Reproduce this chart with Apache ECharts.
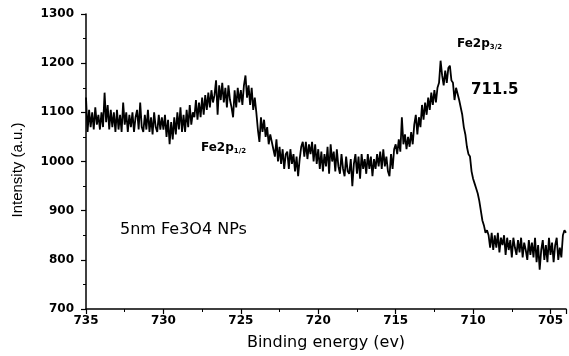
<!DOCTYPE html>
<html>
<head>
<meta charset="utf-8">
<script src="https://cdn.jsdelivr.net/npm/echarts@6/dist/echarts.min.js"></script>
<style>
  html, body { margin: 0; padding: 0; background: #fff; }
  #chart { width: 569px; height: 356px; }
</style>
</head>
<body>
<div id="chart"></div>
<script>
// binding energy grid (eV), read from 735 down to 704 in 0.1 eV steps
const energyStart = 735
const energyStep = 0.1

// intensity, one row per eV
const intensity = [
  1130, 1060, 1105, 1070, 1100, 1065, 1110, 1075, 1095, 1065, // 735.0
  1100, 1070, 1140, 1080, 1115, 1065, 1105, 1070, 1100, 1060, // 734.0
  1105, 1065, 1095, 1060, 1120, 1075, 1100, 1060, 1095, 1070, // 733.0
  1100, 1060, 1090, 1105, 1065, 1120, 1070, 1060, 1095, 1065, // 732.0
  1105, 1060, 1090, 1055, 1100, 1070, 1060, 1095, 1065, 1090, // 731.0
  1065, 1095, 1050, 1085, 1035, 1080, 1045, 1090, 1055, 1100, // 730.0
  1065, 1110, 1060, 1095, 1060, 1105, 1070, 1115, 1075, 1100, // 729.0
  1090, 1125, 1085, 1120, 1090, 1130, 1095, 1135, 1105, 1140, // 728.0
  1110, 1145, 1120, 1135, 1165, 1095, 1155, 1125, 1160, 1120, // 727.0
  1150, 1110, 1155, 1125, 1110, 1090, 1145, 1110, 1150, 1120, // 726.0
  1145, 1115, 1155, 1175, 1130, 1155, 1115, 1150, 1105, 1130, // 725.0
  1100, 1065, 1040, 1090, 1060, 1085, 1050, 1070, 1035, 1055, // 724.0
  1040, 1025, 1010, 1045, 1000, 1030, 995, 1025, 985, 1015,   // 723.0
  1020, 985, 1025, 995, 1015, 980, 1010, 970, 1005, 1030,     // 722.0
  1040, 1010, 1040, 1005, 1035, 1015, 1040, 1000, 1035, 995,  // 721.0
  1025, 985, 1020, 980, 1015, 990, 1030, 975, 1035, 1000,     // 720.0
  1020, 980, 1025, 990, 975, 1015, 985, 970, 1010, 980,       // 719.0
  975, 1005, 950, 995, 1015, 975, 1010, 965, 1015, 985,       // 718.0
  1005, 975, 1015, 985, 1010, 970, 1005, 985, 1015, 990,      // 717.0
  1020, 985, 1025, 990, 1010, 980, 970, 1015, 985, 1025,      // 716.0
  1035, 1015, 1045, 1020, 1090, 1035, 1055, 1025, 1050, 1030, // 715.0
  1060, 1035, 1075, 1095, 1055, 1090, 1070, 1115, 1085, 1120, // 714.0
  1095, 1130, 1105, 1140, 1115, 1145, 1120, 1150, 1160, 1205, // 713.0
  1175, 1155, 1185, 1160, 1190, 1195, 1165, 1160, 1125, 1150, // 712.0
  1150, 1125, 1125, 1095, 1070, 1055, 1030, 1015, 1010, 980,  // 711.0
  965, 955, 945, 935, 920, 900, 880, 870, 855, 860,           // 710.0
  850, 825, 855, 820, 850, 825, 855, 815, 845, 830,           // 709.0
  850, 810, 845, 820, 840, 805, 845, 825, 810, 840,           // 708.0
  815, 845, 805, 835, 820, 800, 840, 810, 835, 805,           // 707.0
  845, 795, 830, 780, 820, 840, 800, 830, 795, 845,           // 706.0
  810, 835, 795, 830, 845, 800, 825, 805, 850, 860,           // 705.0
  855                                                         // 704.0
]

const xTicks = [735, 730, 725, 720, 715, 710, 705]
const yTicks = [700, 800, 900, 1000, 1100, 1200, 1300]

const seriesData = intensity.map((v, i) => [+(energyStart - i * energyStep).toFixed(1), v])

const labelFont = { color: '#000', fontFamily: 'DejaVu Sans', fontWeight: 'bold', fontSize: 12 }

const chart = echarts.init(document.getElementById('chart'))
chart.setOption({
  animation: false,
  grid: { left: 86, right: 1, top: 14, bottom: 46 },
  xAxis: {
    type: 'value',
    inverse: true,
    min: 704,
    max: 735,
    splitNumber: 6,
    axisLine: { lineStyle: { color: '#000', width: 1.5 } },
    axisTick: { length: 5, lineStyle: { color: '#000', width: 1.2 } },
    minorTick: { show: true, splitNumber: 2, length: 3, lineStyle: { color: '#000', width: 1 } },
    splitLine: { show: false },
    axisLabel: Object.assign({
      margin: 6,
      formatter: v => (xTicks.indexOf(v) >= 0 ? String(v) : '')
    }, labelFont),
    name: 'Binding energy (ev)',
    nameLocation: 'middle',
    nameGap: 26,
    nameTextStyle: { color: '#000', fontFamily: 'DejaVu Sans', fontSize: 16 }
  },
  yAxis: {
    type: 'value',
    min: yTicks[0],
    max: yTicks[yTicks.length - 1],
    interval: 100,
    axisLine: { show: true, lineStyle: { color: '#000', width: 1.5 } },
    axisTick: { show: true, length: 5, lineStyle: { color: '#000', width: 1.2 } },
    minorTick: { show: true, splitNumber: 2, length: 3, lineStyle: { color: '#000', width: 1 } },
    splitLine: { show: false },
    axisLabel: Object.assign({ margin: 12, formatter: v => String(v) }, labelFont)
  },
  series: [{
    type: 'line',
    data: seriesData,
    showSymbol: false,
    lineStyle: { color: '#000', width: 1.8 },
    z: 3
  }],
  graphic: [
    {
      type: 'text', x: 18, y: 170, rotation: Math.PI / 2,
      style: {
        text: 'Intensity (a.u.)', fill: '#000',
        font: '15px "Liberation Sans"', align: 'center', verticalAlign: 'middle'
      }
    },
    {
      type: 'text', x: 457, y: 36,
      style: {
        text: '{a|Fe2p}{b|3/2}', fill: '#000',
        rich: {
          a: { fontFamily: 'DejaVu Sans', fontWeight: 'bold', fontSize: 12, color: '#000' },
          b: { fontFamily: 'DejaVu Sans', fontWeight: 'bold', fontSize: 7, color: '#000', padding: [8, 0, 0, 0] }
        }
      }
    },
    {
      type: 'text', x: 471, y: 83,
      style: { text: '711.5', fill: '#000', font: 'bold 15px "DejaVu Sans"' }
    },
    {
      type: 'text', x: 201, y: 140,
      style: {
        text: '{a|Fe2p}{b|1/2}', fill: '#000',
        rich: {
          a: { fontFamily: 'DejaVu Sans', fontWeight: 'bold', fontSize: 12, color: '#000' },
          b: { fontFamily: 'DejaVu Sans', fontWeight: 'bold', fontSize: 7, color: '#000', padding: [8, 0, 0, 0] }
        }
      }
    },
    {
      type: 'text', x: 120, y: 222,
      style: { text: '5nm Fe3O4 NPs', fill: '#000', font: '16px "DejaVu Sans"' }
    }
  ]
})
</script>
</body>
</html>
